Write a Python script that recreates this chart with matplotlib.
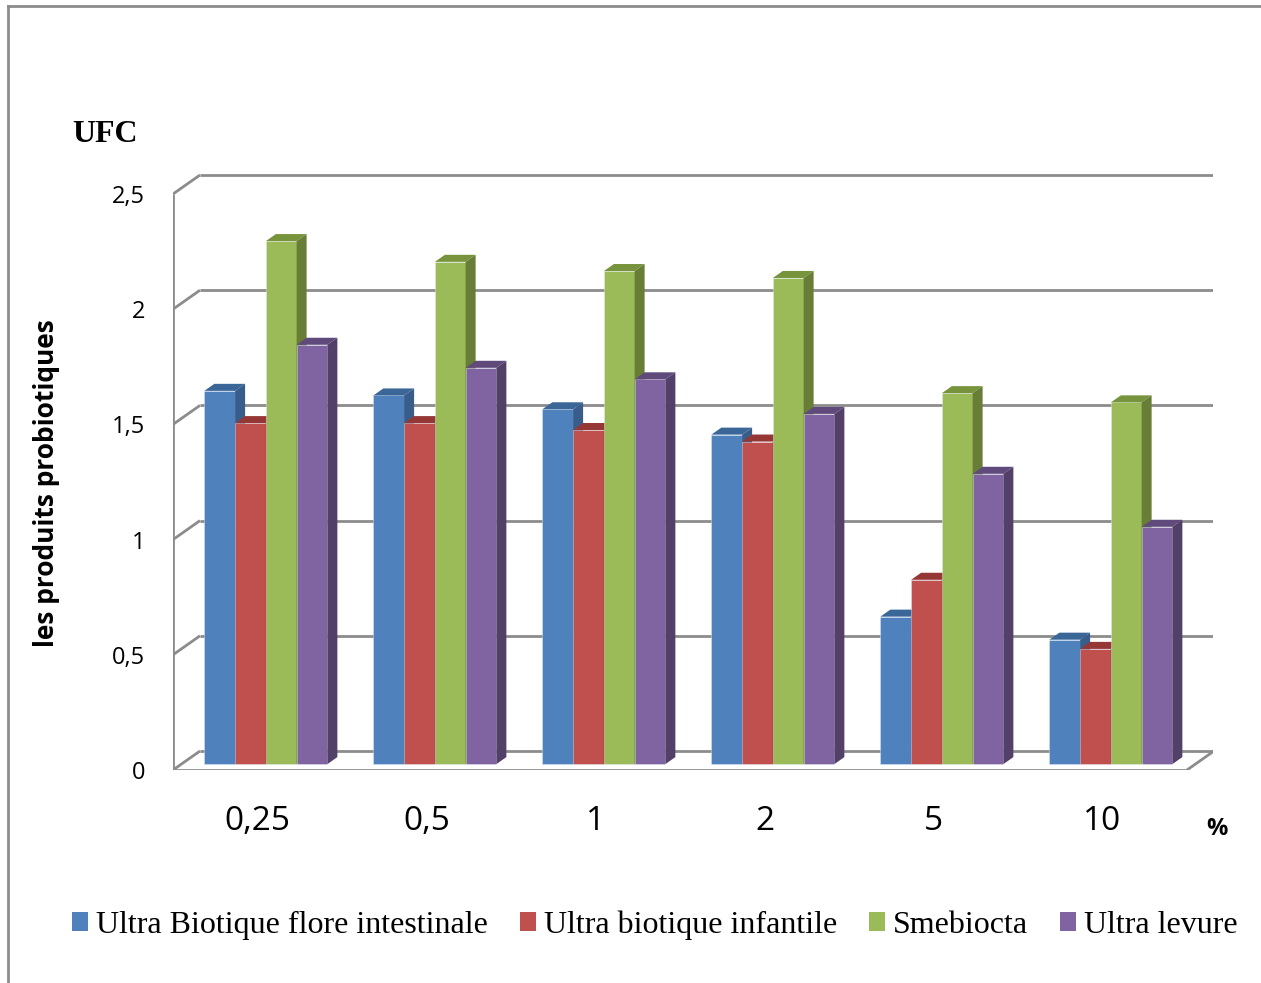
import matplotlib.pyplot as plt
from matplotlib.patches import Polygon, Patch
import numpy as np

# Données
categories = ['0,25', '0,5', '1', '2', '5', '10']
series = ['Ultra Biotique flore intestinale', 'Ultra biotique infantile', 'Smebiocta', 'Ultra levure']
flore = [1.62, 1.60, 1.54, 1.43, 0.64, 0.54]
infantile = [1.48, 1.48, 1.45, 1.40, 0.80, 0.50]
smebiocta = [2.27, 2.18, 2.14, 2.11, 1.61, 1.57]
levure = [1.82, 1.72, 1.67, 1.52, 1.26, 1.03]
yticks = [0, 0.5, 1, 1.5, 2, 2.5]
yticklabels = ['0', '0,5', '1', '1,5', '2', '2,5']

values = [flore, infantile, smebiocta, levure]
front = ['#4F81BD', '#C0504D', '#9BBB59', '#8064A2']
top_col = ['#3B6698', '#953735', '#77933C', '#604A7B']
side_col = ['#385D8A', '#8C3836', '#687E37', '#524068']

W, H = 1261, 983
fig = plt.figure(figsize=(W / 100, H / 100), dpi=100)

# zone du graphique en pixels (mur du fond compris)
px_left, px_right, px_bottom, px_top = 173, 1213, 770, 170
ax = fig.add_axes([px_left / W, 1 - px_bottom / H, (px_right - px_left) / W, (px_bottom - px_top) / H])
sx = (1187 - 173) / 6       # pixels par catégorie
sy = 230.4                  # pixels par unité
ax.set_xlim(-0.5, -0.5 + (px_right - px_left) / sx)
ax.set_ylim(0, (px_bottom - px_top) / sy)
for s in ax.spines.values():
    s.set_visible(False)

# profondeur 3D (décalage du mur du fond)
DX = 27 / sx
DY = 19 / sy
grid_kw = dict(color='#8C8C8C', lw=2, zorder=1, solid_capstyle='butt')

# murs et grille
xmax = ax.get_xlim()[1]
for t in yticks:
    ax.plot([-0.5 + DX, xmax], [t + DY, t + DY], **grid_kw)
    ax.plot([-0.5, -0.5 + DX], [t, t + DY], **grid_kw)
ax.plot([-0.5, -0.5], [0, yticks[-1]], **grid_kw)
ax.plot([-0.5, len(categories) - 0.5], [0, 0], **grid_kw)
ax.plot([len(categories) - 0.5, len(categories) - 0.5 + DX], [0, DY], **grid_kw)

# barres pseudo 3D
d0 = 0.31                   # position de la face avant dans la profondeur
bdx, bdy = 0.37 * DX, 0.37 * DY
bw = 0.182
x = np.arange(len(categories))
z = 3
for c in range(len(categories)):
    for i in range(len(series)):
        v = values[i][c]
        x0 = c + d0 * DX + (i - 2) * bw
        x1 = x0 + bw
        b = d0 * DY
        t = b + v
        ax.bar(x0, v, bw, bottom=b, align='edge', color=front[i],
               edgecolor=(0.9, 0.93, 0.97, 0.5), linewidth=0.6, zorder=z)
        ax.add_patch(Polygon([(x0, t), (x1, t), (x1 + bdx, t + bdy), (x0 + bdx, t + bdy)],
                             closed=True, facecolor=top_col[i], edgecolor='none', zorder=z + 1))
        ax.add_patch(Polygon([(x1, b), (x1, t), (x1 + bdx, t + bdy), (x1 + bdx, b + bdy)],
                             closed=True, facecolor=side_col[i], edgecolor='none', zorder=z + 1))
        z += 2

# axes et étiquettes
ax.set_xticks(x)
ax.set_xticklabels(categories, fontsize=24, family='Open Sans')
ax.set_yticks(yticks)
ax.set_yticklabels(yticklabels, fontsize=17, family='Open Sans')
ax.tick_params(axis='x', length=0, pad=25)
ax.tick_params(axis='y', length=0, pad=20)

fig.text(105 / W, 1 - 135 / H, 'UFC', fontsize=23, fontweight='bold',
         family='Liberation Serif', ha='center', va='center')
fig.text(47 / W, 1 - 483 / H, 'les produits probiotiques', fontsize=19, fontweight='bold',
         family='Open Sans', rotation=90, ha='center', va='center')
fig.text(1217 / W, 1 - 829 / H, '%', fontsize=17, fontweight='bold',
         family='Open Sans', ha='center', va='center')

# légende
handles = [Patch(facecolor=front[i], edgecolor='none') for i in range(len(series))]
fig.legend(handles, series, loc='center', bbox_to_anchor=(655 / W, 1 - 925 / H), ncol=4,
           frameon=False, prop={'family': 'Liberation Serif', 'size': 23},
           handlelength=0.5, handleheight=0.5, handletextpad=0.25, columnspacing=1.0)

# cadre
fig.add_artist(plt.Line2D([8 / W, 8 / W], [0, 1 - 6 / H], color='#8C8C8C', lw=2))
fig.add_artist(plt.Line2D([8 / W, 1], [1 - 6 / H, 1 - 6 / H], color='#8C8C8C', lw=2))

fig.savefig('out.png', dpi=100)
